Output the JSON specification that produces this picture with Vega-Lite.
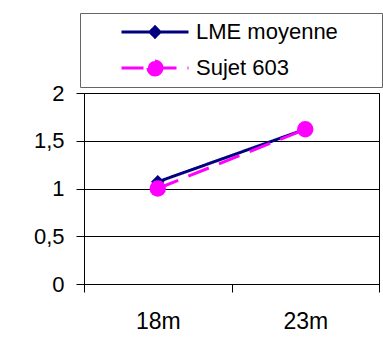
{
  "$schema": "https://vega.github.io/schema/vega-lite/v6.json",
  "width": 295,
  "height": 191,
  "autosize": {"type": "none"},
  "padding": {"left": 84, "top": 93, "right": 4, "bottom": 54},
  "background": "white",
  "config": {"font": "Liberation Sans", "view": {"stroke": "black", "strokeWidth": 1}},
  "data": {"values": [
    {"age": "18m", "series": "LME moyenne", "value": 1.07},
    {"age": "23m", "series": "LME moyenne", "value": 1.62},
    {"age": "18m", "series": "Sujet 603", "value": 1.0},
    {"age": "23m", "series": "Sujet 603", "value": 1.62}
  ]},
  "encoding": {
    "x": {"field": "age", "type": "nominal", "sort": ["18m", "23m"],
      "scale": {"type": "band", "paddingInner": 0, "paddingOuter": 0},
      "axis": {"title": null, "labelAngle": 0, "labelFontSize": 23, "labelColor": "black", "labelPadding": 18,
        "tickBand": "extent", "tickSize": 8, "tickColor": "black", "domainColor": "black", "grid": false}},
    "y": {"field": "value", "type": "quantitative",
      "scale": {"domain": [0, 2], "nice": false},
      "axis": {"title": null, "values": [0, 0.5, 1, 1.5, 2], "format": "~g", "labelExpr": "replace(datum.label, '.', ',')",
        "labelFontSize": 22, "labelColor": "black", "labelPadding": 12, "tickSize": 8, "tickColor": "black",
        "domainColor": "black", "grid": true, "gridColor": "black", "gridOpacity": 1, "gridWidth": 1}}
  },
  "layer": [
    {"mark": {"type": "line", "strokeWidth": 3},
     "encoding": {
       "color": {"field": "series", "type": "nominal",
         "scale": {"domain": ["LME moyenne", "Sujet 603"], "range": ["#000080", "#FF00FF"]},
         "legend": {"title": null, "orient": "none", "legendX": -4, "legendY": -80,
           "strokeColor": "#666666", "fillColor": "white", "padding": 1, "symbolOffset": 39,
           "clipHeight": 36, "rowPadding": 0, "labelFontSize": 22, "labelColor": "black", "labelOffset": 6,
           "symbolSize": 4489, "symbolStrokeWidth": 3, "labelLimit": 400,
           "labelExpr": "datum.label + '\u00a0\u00a0\u00a0\u00a0\u00a0\u00a0\u00a0\u200b'",
           "encode": {"symbols": {"update": {
             "fill": {"scale": "color", "field": "value"},
             "stroke": {"scale": "color", "field": "value"},
             "strokeWidth": {"value": 3},
             "opacity": {"value": 1},
             "shape": {"signal": "datum.value == 'LME moyenne' ? 'M-1,0H1M0,-0.15L0.15,0L0,0.15L-0.15,0Z' : 'M-1,0H1M0.21,0A0.21,0.21,0,1,1,-0.21,0A0.21,0.21,0,1,1,0.21,0Z'"}
           }}}}},
       "strokeDash": {"field": "series", "type": "nominal",
         "scale": {"domain": ["LME moyenne", "Sujet 603"], "range": [[1, 0], [22, 11]]}, "legend": null}}},
    {"transform": [{"filter": "datum.series == 'LME moyenne'"}],
     "mark": {"type": "point", "filled": true, "opacity": 1, "shape": "diamond", "size": 180, "color": "#000080"}},
    {"transform": [{"filter": "datum.series == 'Sujet 603'"}],
     "mark": {"type": "point", "filled": true, "opacity": 1, "shape": "circle", "size": 270, "color": "#FF00FF"}}
  ]
}
